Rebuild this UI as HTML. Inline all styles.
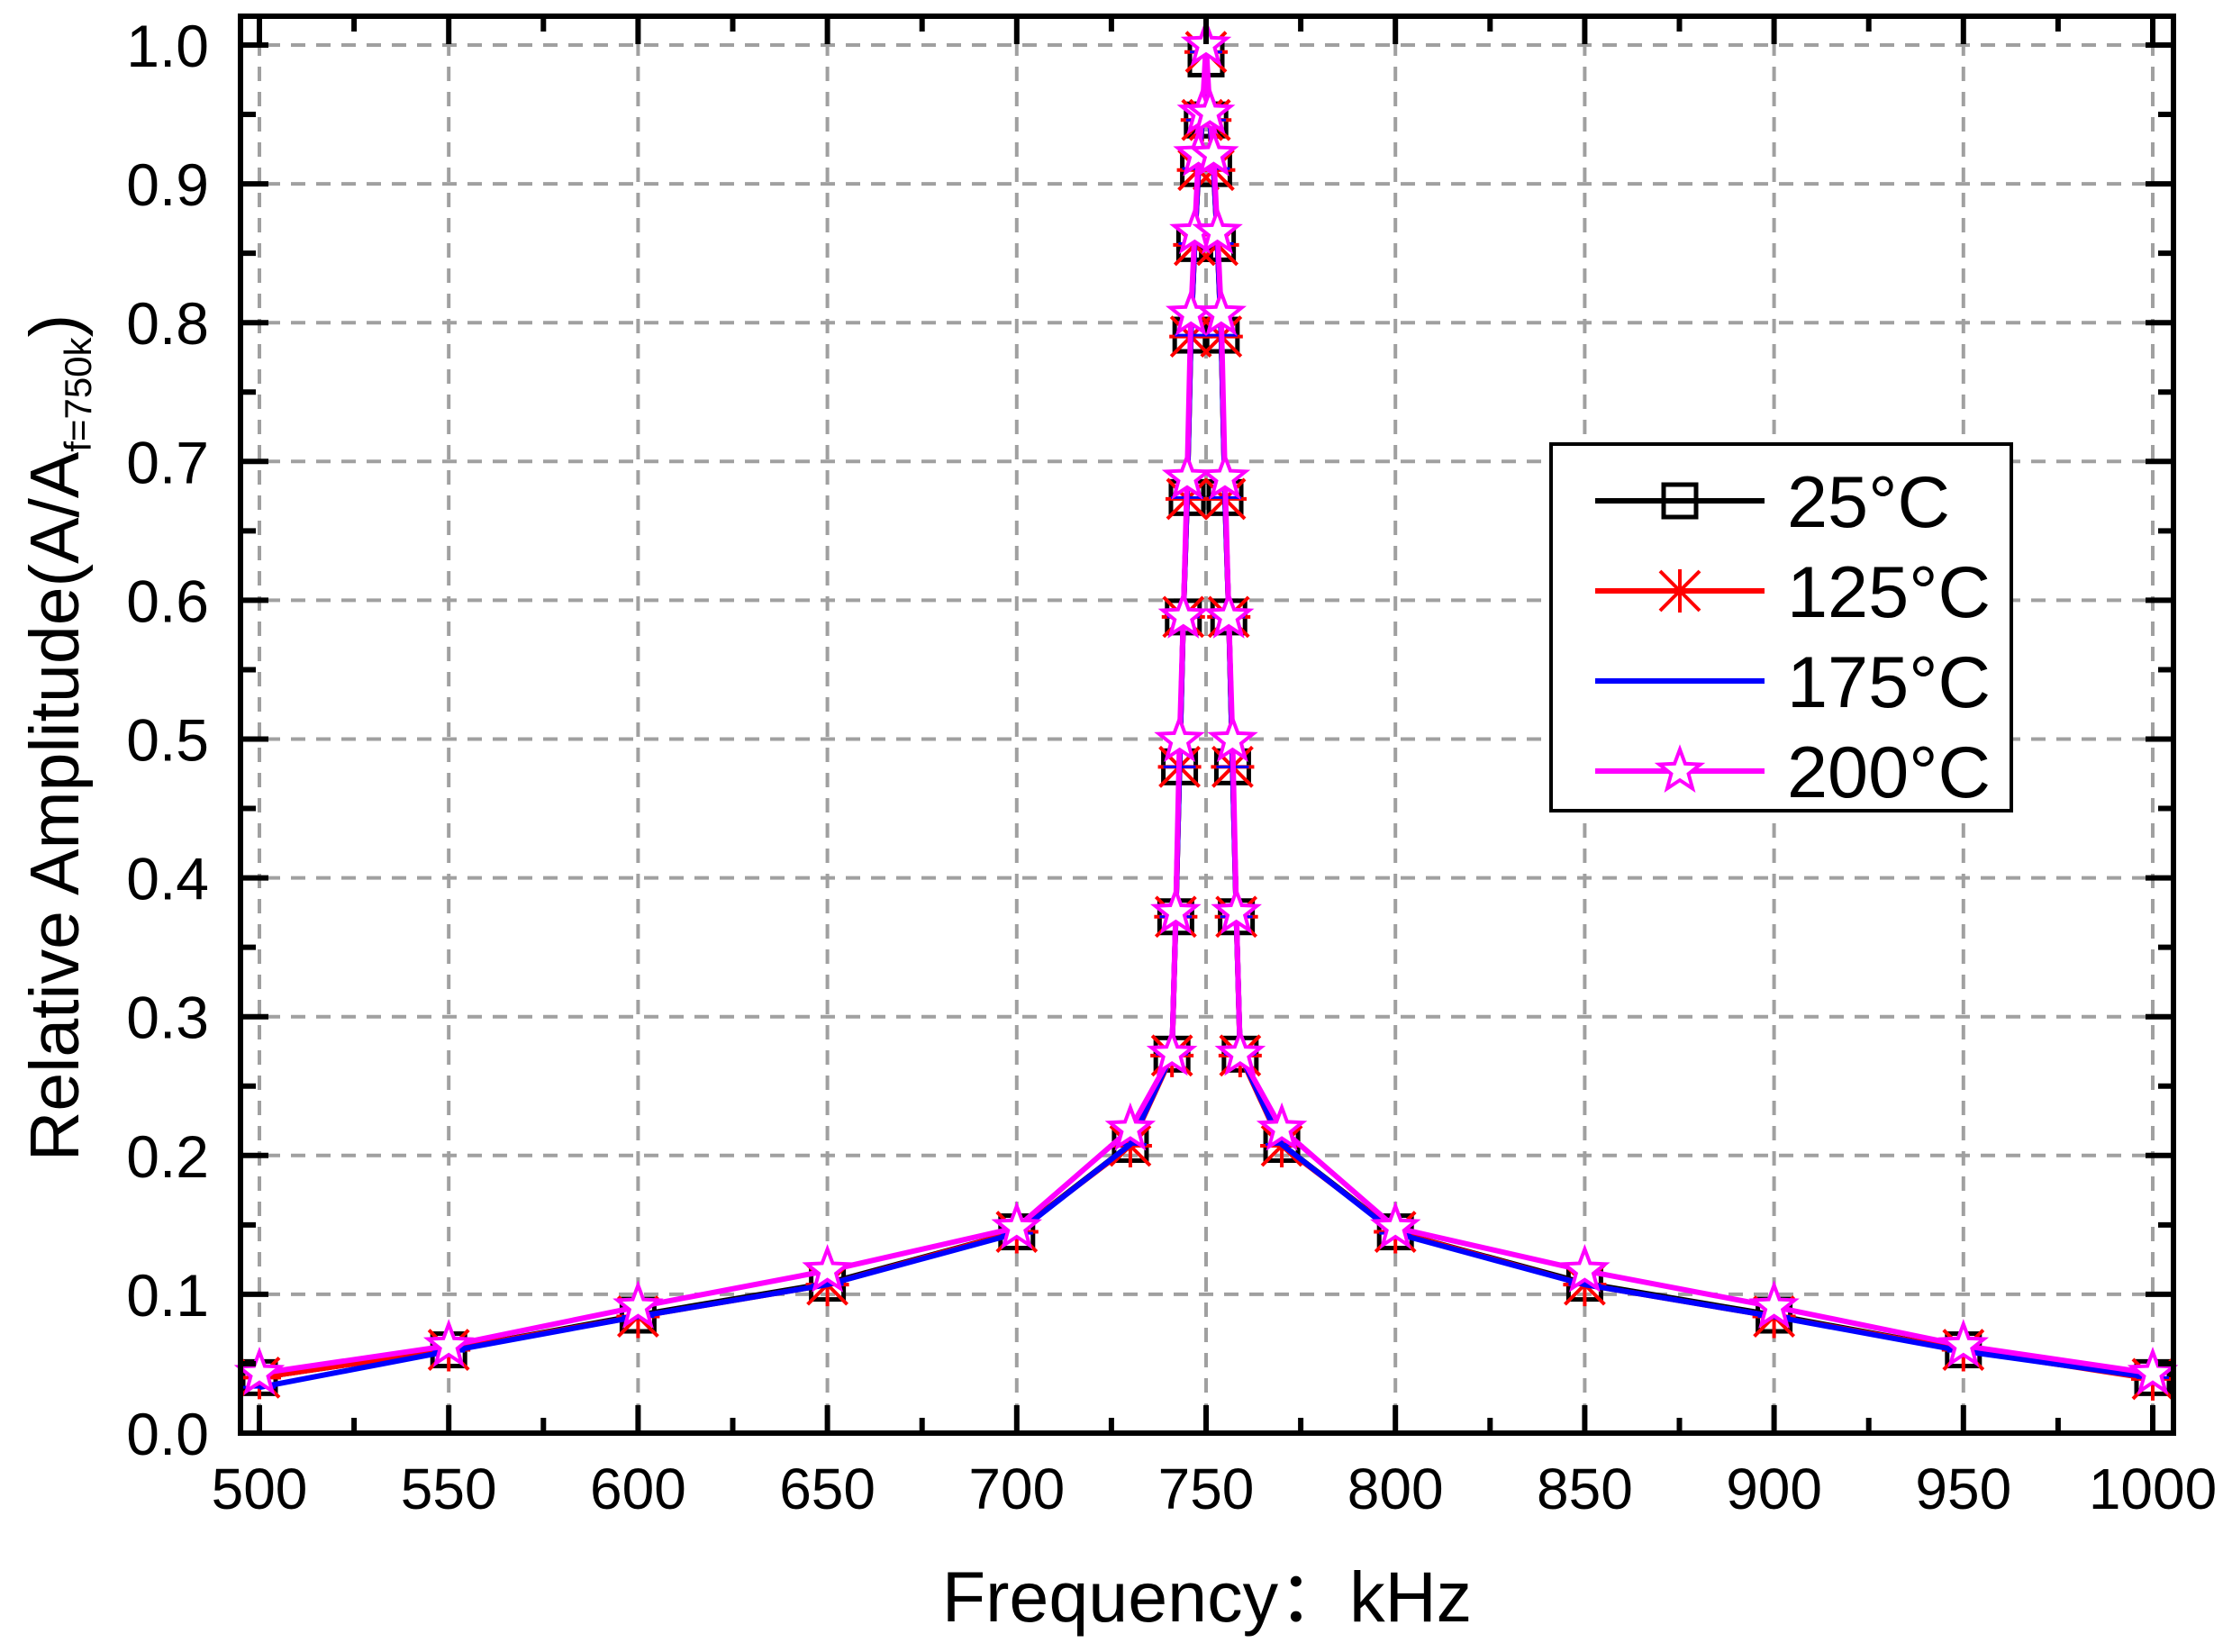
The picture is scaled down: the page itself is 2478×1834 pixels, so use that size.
<!DOCTYPE html>
<html><head><meta charset="utf-8">
<style>
html,body{margin:0;padding:0;background:#fff;}
svg{display:block;font-family:"Liberation Sans","Noto Sans CJK SC",sans-serif;}
</style></head>
<body>
<svg id="chart" width="2478" height="1834" viewBox="0 0 2478 1834" xmlns="http://www.w3.org/2000/svg">
<rect x="0" y="0" width="2478" height="1834" fill="#fff"/>
<g id="grid"></g>
<g id="series"></g>
<g id="axes"></g>
<g id="legend"></g>
<text x="1340" y="1800" font-size="79" text-anchor="middle">Frequency：kHz</text>
<text transform="translate(87,819) rotate(-90)" font-size="77" text-anchor="middle">Relative Amplitude(A/A<tspan font-size="42" dy="14">f=750k</tspan><tspan dy="-14">)</tspan></text>
</svg>
<script>
const freqs = [500,550,600,650,700,730,741,742,743,744,745,746,747,748,749,750,751,752,753,754,755,756,757,758,759,770,800,850,900,950,1000];
const s25  = [0.040,0.060,0.085,0.108,0.145,0.208,0.273,0.372,0.480,0.588,0.674,0.791,0.857,0.911,0.946,0.990,0.946,0.911,0.857,0.791,0.674,0.588,0.480,0.372,0.273,0.208,0.145,0.108,0.085,0.060,0.040];
const s125 = [0.040,0.060,0.084,0.107,0.145,0.207,0.272,0.372,0.480,0.588,0.673,0.790,0.856,0.910,0.946,0.995,0.946,0.910,0.856,0.790,0.673,0.588,0.480,0.372,0.272,0.207,0.145,0.107,0.084,0.060,0.039];
const s175 = [0.033,0.059,0.084,0.107,0.144,0.208,0.273,0.372,0.480,0.588,0.674,0.791,0.857,0.911,0.946,0.995,0.946,0.911,0.857,0.791,0.674,0.588,0.480,0.372,0.273,0.208,0.144,0.107,0.084,0.059,0.040];
const s200 = [0.043,0.063,0.091,0.117,0.148,0.219,0.273,0.375,0.499,0.588,0.688,0.806,0.865,0.921,0.951,1.000,0.951,0.921,0.865,0.806,0.688,0.588,0.499,0.375,0.273,0.219,0.148,0.117,0.091,0.063,0.043];
const xTicks = [500,550,600,650,700,750,800,850,900,950,1000];
const yTicks = [0.0,0.1,0.2,0.3,0.4,0.5,0.6,0.7,0.8,0.9,1.0];
const legendLabels = ["25°C","125°C","175°C","200°C"];

const NS="http://www.w3.org/2000/svg";
const L=267,R=2413,T=18,B=1591;
const X=v=>288+(v-500)*(2390-288)/500;
const Y=v=>1591-v*(1591-50);
function mk(tag,attrs,parent){const e=document.createElementNS(NS,tag);for(const k in attrs)e.setAttribute(k,attrs[k]);parent.appendChild(e);return e;}
const grid=document.getElementById('grid'),axes=document.getElementById('axes'),ser=document.getElementById('series'),leg=document.getElementById('legend');

xTicks.forEach(v=>{
  const g=mk('line',{x1:X(v),x2:X(v),y1:T,y2:B,stroke:'#a0a0a0','stroke-width':4,'stroke-dasharray':'16 12'},grid);
  
  
  const t=mk('text',{x:X(v),y:1675,'font-size':64,'text-anchor':'middle'},axes);
  t.textContent=v;
  
  
  [[B,B-31],[T,T+31]].forEach(p=>{const k=mk('line',{x1:X(v),x2:X(v),y1:p[0],y2:p[1],stroke:'#000','stroke-width':6},axes);
    
    });
});
for(let i=0;i<xTicks.length-1;i++){const v=(xTicks[i]+xTicks[i+1])/2;
  [[B,B-17],[T,T+17]].forEach(p=>{const k=mk('line',{x1:X(v),x2:X(v),y1:p[0],y2:p[1],stroke:'#000','stroke-width':6},axes);
    
    });}
yTicks.forEach(v=>{
  if(v>0){const g=mk('line',{x1:L,x2:R,y1:Y(v),y2:Y(v),stroke:'#a0a0a0','stroke-width':4,'stroke-dasharray':'16 12'},grid);
  
  }
  const t=mk('text',{x:232,y:Y(v)+24,'font-size':66,'text-anchor':'end'},axes);
  t.textContent=v.toFixed(1);
  
  
  [[L,L+31],[R,R-31]].forEach(p=>{const k=mk('line',{x1:p[0],x2:p[1],y1:Y(v),y2:Y(v),stroke:'#000','stroke-width':6},axes);
    
    });
});
for(let i=0;i<yTicks.length-1;i++){const v=(yTicks[i]+yTicks[i+1])/2;
  [[L,L+17],[R,R-17]].forEach(p=>{const k=mk('line',{x1:p[0],x2:p[1],y1:Y(v),y2:Y(v),stroke:'#000','stroke-width':6},axes);
    
    });}
const fr=mk('rect',{x:L,y:T,width:R-L,height:B-T,fill:'none',stroke:'#000','stroke-width':6},axes);



function starPts(cx,cy,r){let p=[];for(let i=0;i<10;i++){const a=-Math.PI/2+i*Math.PI/5;const rr=i%2?r*0.42:r;p.push((cx+rr*Math.cos(a)).toFixed(1)+','+(cy+rr*Math.sin(a)).toFixed(1));}return p.join(' ');}
function marker(kind,cx,cy,parent,color){
  if(kind==='square'){const m=mk('rect',{x:cx-18,y:cy-18,width:36,height:36,fill:'none',stroke:color,'stroke-width':5},parent);
    
    }
  else if(kind==='aster'){const m=mk('path',{d:`M${cx-22},${cy-22}L${cx+22},${cy+22}M${cx+22},${cy-22}L${cx-22},${cy+22}M${cx},${cy-24}L${cx},${cy+24}M${cx-24},${cy}L${cx+24},${cy}`,stroke:color,'stroke-width':4,fill:'none'},parent);
    
    }
  else if(kind==='dash'){const m=mk('line',{x1:cx-18,x2:cx+18,y1:cy,y2:cy,stroke:color,'stroke-width':3},parent);
    
    }
  else if(kind==='star'){const m=mk('polygon',{points:starPts(cx,cy,24),fill:'#fff',stroke:color,'stroke-width':4},parent);
    
    }
}
const defs=[[s25,'#000','square','series-25c'],[s125,'#f00','aster','series-125c'],[s175,'#00f','dash','series-175c'],[s200,'#f0f','star','series-200c']];
defs.forEach(d=>{
  const g=mk('g',{},ser);
  
  
  const pl=mk('polyline',{points:freqs.map((f,i)=>X(f)+','+Y(d[0][i])).join(' '),fill:'none',stroke:d[1],'stroke-width':6,'stroke-linejoin':'round'},g);
  
  
  freqs.forEach((f,i)=>marker(d[2],X(f),Y(d[0][i]),g,d[1]));
});

const lb=mk('rect',{x:1722,y:493,width:511,height:407,fill:'#fff',stroke:'#000','stroke-width':4},leg);


legendLabels.forEach((lab,i)=>{
  const y=556+i*100;
  const g=mk('g',{},leg);
  
  
  const ln=mk('line',{x1:1771,x2:1959,y1:y,y2:y,stroke:defs[i][1],'stroke-width':6},g);
  
  
  if(defs[i][2]!=='dash')marker(defs[i][2],1865,y,g,defs[i][1]);
  const t=mk('text',{x:1984,y:y+29,'font-size':81},g);
  t.textContent=lab;
  
  
});
</script>
</body></html>
